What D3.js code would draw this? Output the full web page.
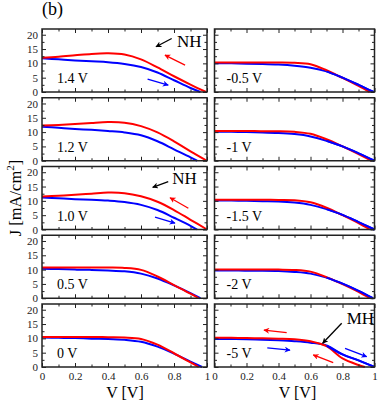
<!DOCTYPE html>
<html>
<head>
<meta charset="utf-8">
<script src="https://cdn.jsdelivr.net/npm/d3@7"></script>
<style>
  body { margin: 0; background: #fff; }
  text { font-family: "Liberation Serif", "DejaVu Serif", serif; }
</style>
</head>
<body>
<div id="chart"></div>
<script>
var svgWidth = 382;
var svgHeight = 400;

// voltage grid shared by all curves (J at V = 0 ... 0.9), plus where each curve hits zero
var vGrid = [0, 0.1, 0.2, 0.3, 0.4, 0.5, 0.6, 0.7, 0.8, 0.9];

var panelLabels = ["1.4 V", "1.2 V", "1.0 V", "0.5 V", "0 V",
                   "-0.5 V", "-1 V", "-1.5 V", "-2 V", "-5 V"];

// red = reverse scan, blue = forward scan
var redJ = [
  [12.0, 12.3, 12.8, 13.3, 13.5, 13.1, 11.4, 8.6, 5.5, 2.6],
  [12.3, 12.5, 12.8, 13.2, 13.5, 13.3, 12.1, 9.9, 6.8, 3.3],
  [11.5, 11.8, 12.1, 12.5, 12.9, 12.7, 11.6, 9.7, 6.8, 3.4],
  [10.7, 10.7, 10.7, 10.7, 10.7, 10.6, 9.9, 7.6, 4.6, 1.6],
  [10.5, 10.5, 10.5, 10.5, 10.4, 10.3, 9.8, 7.8, 4.8, 1.6],
  [10.3, 10.3, 10.3, 10.3, 10.3, 10.2, 9.7, 7.6, 4.9, 2.1],
  [10.4, 10.4, 10.4, 10.3, 10.3, 10.1, 9.4, 7.5, 5.0, 2.3],
  [10.4, 10.4, 10.4, 10.4, 10.3, 10.2, 9.5, 7.6, 5.0, 2.2],
  [10.0, 10.0, 10.0, 10.0, 10.0, 9.9, 9.3, 7.4, 4.9, 2.2],
  [10.2, 10.2, 10.1, 10.0, 9.9, 9.7, 9.0, 7.3, 3.0, 0.7]
];
var redEnd = [0.995, 1.0, 1.0, 0.95, 0.95, 0.97, 0.98, 0.97, 0.97, 0.94];

var blueJ = [
  [11.8, 11.4, 11.0, 10.7, 10.4, 9.8, 8.7, 6.8, 4.1, 1.4],
  [11.9, 11.5, 11.1, 10.8, 10.4, 9.9, 8.9, 6.8, 4.0, 1.2],
  [11.2, 10.9, 10.6, 10.4, 10.1, 9.6, 8.6, 6.8, 4.1, 1.3],
  [10.3, 10.2, 10.0, 9.9, 9.7, 9.4, 8.6, 6.9, 4.5, 1.8],
  [10.3, 10.2, 10.1, 9.9, 9.8, 9.5, 8.8, 7.1, 4.7, 1.9],
  [10.0, 10.0, 9.9, 9.8, 9.6, 9.2, 8.5, 7.2, 5.0, 2.5],
  [10.1, 10.1, 10.0, 9.9, 9.7, 9.3, 8.5, 7.0, 5.0, 2.6],
  [10.1, 10.1, 10.0, 9.9, 9.8, 9.4, 8.6, 7.1, 5.1, 2.6],
  [9.7, 9.7, 9.6, 9.6, 9.5, 9.2, 8.6, 7.2, 5.1, 2.6],
  [9.8, 9.8, 9.7, 9.5, 9.3, 9.0, 8.5, 7.5, 4.4, 2.3]
];
var blueEnd = [0.96, 0.94, 0.94, 0.96, 0.97, 0.995, 1.0, 1.0, 0.99, 1.0];

var xTicks = [0, 0.2, 0.4, 0.6, 0.8, 1];
var xMinor = [0.1, 0.3, 0.5, 0.7, 0.9];
var yTicks = [0, 5, 10, 15, 20];
var yMinor = [2.5, 7.5, 12.5, 17.5];

// annotation arrows: panel, V1, J1, V2, J2 (head at V2,J2), colour
var arrows = [
  [0, 0.786, 18.7, 0.691, 15.8, "black"],
  [0, 0.867, 9.4, 0.745, 12.9, "red"],
  [0, 0.640, 4.5, 0.765, 2.4, "blue"],
  [2, 0.765, 16.7, 0.671, 14.7, "black"],
  [2, 0.887, 7.4, 0.776, 11.1, "red"],
  [2, 0.685, 4.3, 0.806, 2.2, "blue"],
  [9, 0.795, 15.3, 0.676, 8.3, "black"],
  [9, 0.451, 12.0, 0.309, 12.9, "red"],
  [9, 0.330, 6.7, 0.472, 5.9, "blue"],
  [9, 0.742, 1.5, 0.617, 4.2, "red"],
  [9, 0.816, 6.5, 0.951, 3.6, "blue"]
];
var notes = [[0, 0.818, 15.7, "NH"], [2, 0.790, 16.0, "NH"], [9, 0.826, 15.0, "MH"]];

// panel layout
var cols = [{x: 42, w: 165}, {x: 214.5, w: 160}];
var rowTop = 29, rowStep = 68.75, panelH = 63;

var svg = d3.select("#chart")
    .append("svg")
    .attr("width", svgWidth)
    .attr("height", svgHeight);

var defs = svg.append("defs");
["black", "red", "blue"].forEach(c => {
    defs.append("marker")
        .attr("id", "head-" + c)
        .attr("viewBox", "0 0 10 10")
        .attr("refX", 9).attr("refY", 5)
        .attr("markerWidth", 6).attr("markerHeight", 6)
        .attr("markerUnits", "userSpaceOnUse")
        .attr("orient", "auto")
        .append("path")
        .attr("d", "M0,0 L10,5 L0,10 L3,5 Z")
        .attr("fill", c);
});

var fmt = d => String(+(+d).toFixed(1));

panelLabels.forEach((label, i) => {
    var col = i < 5 ? 0 : 1;
    var row = i % 5;
    var c = cols[col];
    var g = svg.append("g")
        .attr("transform", `translate(${c.x}, ${rowTop + row * rowStep})`);

    var x = d3.scaleLinear().domain([0, 1]).range([0, c.w]);
    var y = d3.scaleLinear().domain([0, 22]).range([panelH, 0]);

    var line = d3.line()
        .x(d => x(d[0]))
        .y(d => y(d[1]))
        .curve(d3.curveCatmullRom.alpha(0.5));

    var redPts = vGrid.map((v, k) => [v, redJ[i][k]]).concat([[redEnd[i], 0]]);
    var bluePts = vGrid.map((v, k) => [v, blueJ[i][k]]).concat([[blueEnd[i], 0]]);

    g.append("path").attr("d", line(bluePts))
        .attr("fill", "none").attr("stroke", "#0000ff").attr("stroke-width", 2);
    g.append("path").attr("d", line(redPts))
        .attr("fill", "none").attr("stroke", "#ff0000").attr("stroke-width", 2);
    if (col == 1) {
        // blue sits over red in the tail for negative bias
        g.append("path").attr("d", line(bluePts.filter(d => d[0] >= 0.7)))
            .attr("fill", "none").attr("stroke", "#0000ff").attr("stroke-width", 2);
    }

    // axes, ticks pointing inward
    var axes = [
        g.append("g").attr("transform", `translate(0, ${panelH})`)
            .call(d3.axisBottom(x).tickValues(xTicks).tickSize(-4).tickPadding(5)
                .tickFormat(row == 4 ? fmt : "")),
        g.append("g").attr("transform", `translate(0, ${panelH})`)
            .call(d3.axisBottom(x).tickValues(xMinor).tickSize(-2.5).tickFormat("")),
        g.append("g")
            .call(d3.axisTop(x).tickValues(xTicks).tickSize(-4).tickFormat("")),
        g.append("g")
            .call(d3.axisTop(x).tickValues(xMinor).tickSize(-2.5).tickFormat("")),
        g.append("g")
            .call(d3.axisLeft(y).tickValues(yTicks).tickSize(-4).tickPadding(4)
                .tickFormat(col == 0 ? fmt : "")),
        g.append("g")
            .call(d3.axisLeft(y).tickValues(yMinor).tickSize(-2.5).tickFormat("")),
        g.append("g").attr("transform", `translate(${c.w}, 0)`)
            .call(d3.axisRight(y).tickValues(yTicks).tickSize(-4).tickFormat("")),
        g.append("g").attr("transform", `translate(${c.w}, 0)`)
            .call(d3.axisRight(y).tickValues(yMinor).tickSize(-2.5).tickFormat(""))
    ];
    axes.forEach(a => {
        a.select(".domain").remove();
        a.selectAll("line").attr("stroke", "#222").attr("stroke-width", 1);
        a.selectAll("text").attr("font-size", "11px").attr("fill", "#222")
            .attr("font-family", "Liberation Serif, serif");
    });

    g.append("rect")
        .attr("width", c.w).attr("height", panelH)
        .attr("fill", "none").attr("stroke", "#222").attr("stroke-width", 1.5);

    g.append("text")
        .attr("x", col == 0 ? 15 : 12)
        .attr("y", panelH - 9)
        .attr("font-size", "14px")
        .text(label);

    arrows.filter(a => a[0] == i).forEach(a => {
        g.append("line")
            .attr("x1", x(a[1])).attr("y1", y(a[2]))
            .attr("x2", x(a[3])).attr("y2", y(a[4]))
            .attr("stroke", a[5]).attr("stroke-width", 1.3)
            .attr("marker-end", `url(#head-${a[5]})`);
    });
    notes.filter(n => n[0] == i).forEach(n => {
        g.append("text")
            .attr("x", x(n[1])).attr("y", y(n[2]))
            .attr("font-size", "17px")
            .text(n[3]);
    });
});

// Labels
svg.append("text")
    .attr("x", 42).attr("y", 15)
    .attr("font-size", "18px")
    .text("(b)");

[0, 1].forEach(k => {
    svg.append("text")
        .attr("x", cols[k].x + cols[k].w / 2 + (k == 0 ? 0.5 : 3))
        .attr("y", 398)
        .attr("text-anchor", "middle")
        .attr("font-size", "16px")
        .text("V [V]");
});

var yLab = svg.append("text")
    .attr("transform", "translate(21, 198) rotate(-90)")
    .attr("text-anchor", "middle")
    .attr("font-size", "16.5px");
yLab.append("tspan").text("J [mA/cm");
yLab.append("tspan").attr("font-size", "11px").attr("dy", "-0.6em").text("2");
yLab.append("tspan").attr("dy", "0.4em").text("]");
</script>
</body>
</html>
